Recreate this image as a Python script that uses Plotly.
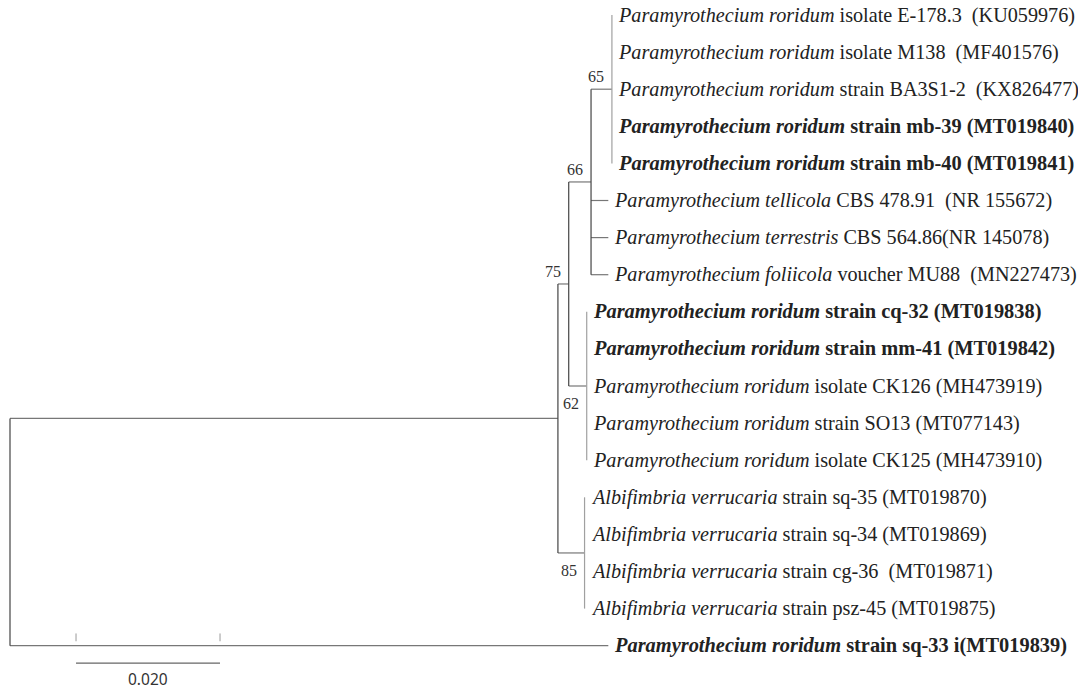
import plotly.graph_objects as go

# ---------------- data ----------------
# leaf taxa (top to bottom); (italic part, rest of label)
leaf_species = [
    "Paramyrothecium roridum", "Paramyrothecium roridum", "Paramyrothecium roridum",
    "Paramyrothecium roridum", "Paramyrothecium roridum",
    "Paramyrothecium tellicola", "Paramyrothecium terrestris", "Paramyrothecium foliicola",
    "Paramyrothecium roridum", "Paramyrothecium roridum", "Paramyrothecium roridum",
    "Paramyrothecium roridum", "Paramyrothecium roridum",
    "Albifimbria verrucaria", "Albifimbria verrucaria", "Albifimbria verrucaria",
    "Albifimbria verrucaria", "Paramyrothecium roridum",
]
leaf_rest = [
    "isolate E-178.3  (KU059976)", "isolate M138  (MF401576)", "strain BA3S1-2  (KX826477)",
    "strain mb-39 (MT019840)", "strain mb-40 (MT019841)",
    "CBS 478.91  (NR 155672)", "CBS 564.86(NR 145078)", "voucher MU88  (MN227473)",
    "strain cq-32 (MT019838)", "strain mm-41 (MT019842)", "isolate CK126 (MH473919)",
    "strain SO13 (MT077143)", "isolate CK125 (MH473910)",
    "strain sq-35 (MT019870)", "strain sq-34 (MT019869)", "strain cg-36  (MT019871)",
    "strain psz-45 (MT019875)", "strain sq-33 i(MT019839)",
]
leaf_bold = [False, False, False, True, True, False, False, False,
             True, True, False, False, False, False, False, False, False, True]
leaf_parent = ["D", "D", "D", "D", "D", "C", "C", "C",
               "E", "E", "E", "E", "E", "F", "F", "F", "F", "root"]
leaf_branch = [0, 0, 0, 0, 0, 0.0024, 0.0024, 0.0024,
               0, 0, 0, 0, 0, 0, 0, 0, 0, 0.0831]

# internal nodes: id, parent, branch length, bootstrap
node_ids = ["root", "A", "B", "C", "D", "E", "F"]
node_parent = [None, "root", "A", "B", "C", "B", "A"]
node_branch = [0.0, 0.0761, 0.0015, 0.0031, 0.0029, 0.0025, 0.0037]
node_support = [None, None, 75, 66, 65, 62, 85]

scale_length = 0.020
scale_label = "0.020"

# ---------------- layout of tree ----------------
node_x = {}
for nid, par, bl in zip(node_ids, node_parent, node_branch):
    node_x[nid] = (node_x[par] if par else 0.0) + bl

leaf_x = [node_x[p] + bl for p, bl in zip(leaf_parent, leaf_branch)]
leaf_y = list(range(len(leaf_species)))

children = {nid: [] for nid in node_ids}
for i, p in enumerate(leaf_parent):
    children[p].append(("leaf", i))
for nid, par in zip(node_ids, node_parent):
    if par:
        children[par].append(("node", nid))

node_y = {}


def get_y(kind, ref):
    if kind == "leaf":
        return leaf_y[ref]
    if ref not in node_y:
        ys = [get_y(k, r) for k, r in children[ref]]
        node_y[ref] = (min(ys) + max(ys)) / 2
    return node_y[ref]


for nid in node_ids:
    get_y("node", nid)

# line segments
dark_x, dark_y = [], []
mid_x, mid_y = [], []
light_x, light_y = [], []
for nid in node_ids:
    ys = [get_y(k, r) for k, r in children[nid]]
    all_zero_leaves = all(k == "leaf" and leaf_branch[r] == 0 for k, r in children[nid])
    tx, ty = (light_x, light_y) if all_zero_leaves else (dark_x, dark_y)
    tx += [node_x[nid], node_x[nid], None]
    ty += [min(ys), max(ys), None]
for nid, par in zip(node_ids, node_parent):
    if par:
        mid_x += [node_x[par], node_x[nid], None]
        mid_y += [node_y[nid], node_y[nid], None]
for i, (p, bl) in enumerate(zip(leaf_parent, leaf_branch)):
    if bl > 0:
        mid_x += [node_x[p], leaf_x[i], None]
        mid_y += [leaf_y[i], leaf_y[i], None]

fig = go.Figure()
fig.add_trace(go.Scatter(x=mid_x, y=mid_y, mode="lines",
                         line=dict(color="#777777", width=1.2), hoverinfo="skip"))
fig.add_trace(go.Scatter(x=dark_x, y=dark_y, mode="lines",
                         line=dict(color="#444444", width=1.2), hoverinfo="skip"))
fig.add_trace(go.Scatter(x=light_x, y=light_y, mode="lines",
                         line=dict(color="#a0a0a0", width=1.2), hoverinfo="skip"))

annotations = []
for i in range(len(leaf_species)):
    txt = "<i>%s</i> %s" % (leaf_species[i], leaf_rest[i])
    size = 20.2
    if leaf_bold[i]:
        txt = "<b>%s</b>" % txt
        size = 20.4
    annotations.append(dict(
        x=leaf_x[i], y=leaf_y[i], text=txt, showarrow=False,
        xanchor="left", yanchor="middle", xshift=4,
        font=dict(family="Liberation Serif", size=size, color="#222222")))

for nid, sup in zip(node_ids, node_support):
    if sup is None:
        continue
    below = nid in ("E", "F")
    annotations.append(dict(
        x=node_x[nid], y=node_y[nid], text=str(sup), showarrow=False,
        xanchor="right", yanchor="top" if below else "bottom",
        xshift=-6, yshift=-7 if below else 2,
        font=dict(family="Liberation Serif", size=16, color="#333333")))

# scale bar
sb_x0 = 0.00917
sb_y = 17.47
fig.add_trace(go.Scatter(x=[sb_x0, sb_x0 + scale_length], y=[sb_y, sb_y], mode="lines",
                         line=dict(color="#666666", width=1.2), hoverinfo="skip"))
fig.add_trace(go.Scatter(
    x=[sb_x0, sb_x0, None, sb_x0 + scale_length, sb_x0 + scale_length],
    y=[16.67, 16.88, None, 16.67, 16.88], mode="lines",
    line=dict(color="#999999", width=1), hoverinfo="skip"))
annotations.append(dict(x=sb_x0 + scale_length / 2, y=sb_y, text=scale_label,
                        showarrow=False, xanchor="center", yanchor="top", yshift=-3,
                        font=dict(family="Noto Sans", size=15.5, color="#333333")))

px_per_unit = 144 / 0.020
fig.update_layout(
    width=1078, height=693,
    margin=dict(l=0, r=0, t=0, b=0),
    paper_bgcolor="white", plot_bgcolor="white",
    showlegend=False,
    annotations=annotations,
    xaxis=dict(range=[-10 / px_per_unit, 1068 / px_per_unit], visible=False, fixedrange=True),
    yaxis=dict(range=[(693 - 15) / 37.1, -15 / 37.1], visible=False, fixedrange=True),
)
fig.write_html("out.html", config={"displayModeBar": False},
               post_script="document.body.style.margin='0px';document.body.style.overflow='hidden';")
